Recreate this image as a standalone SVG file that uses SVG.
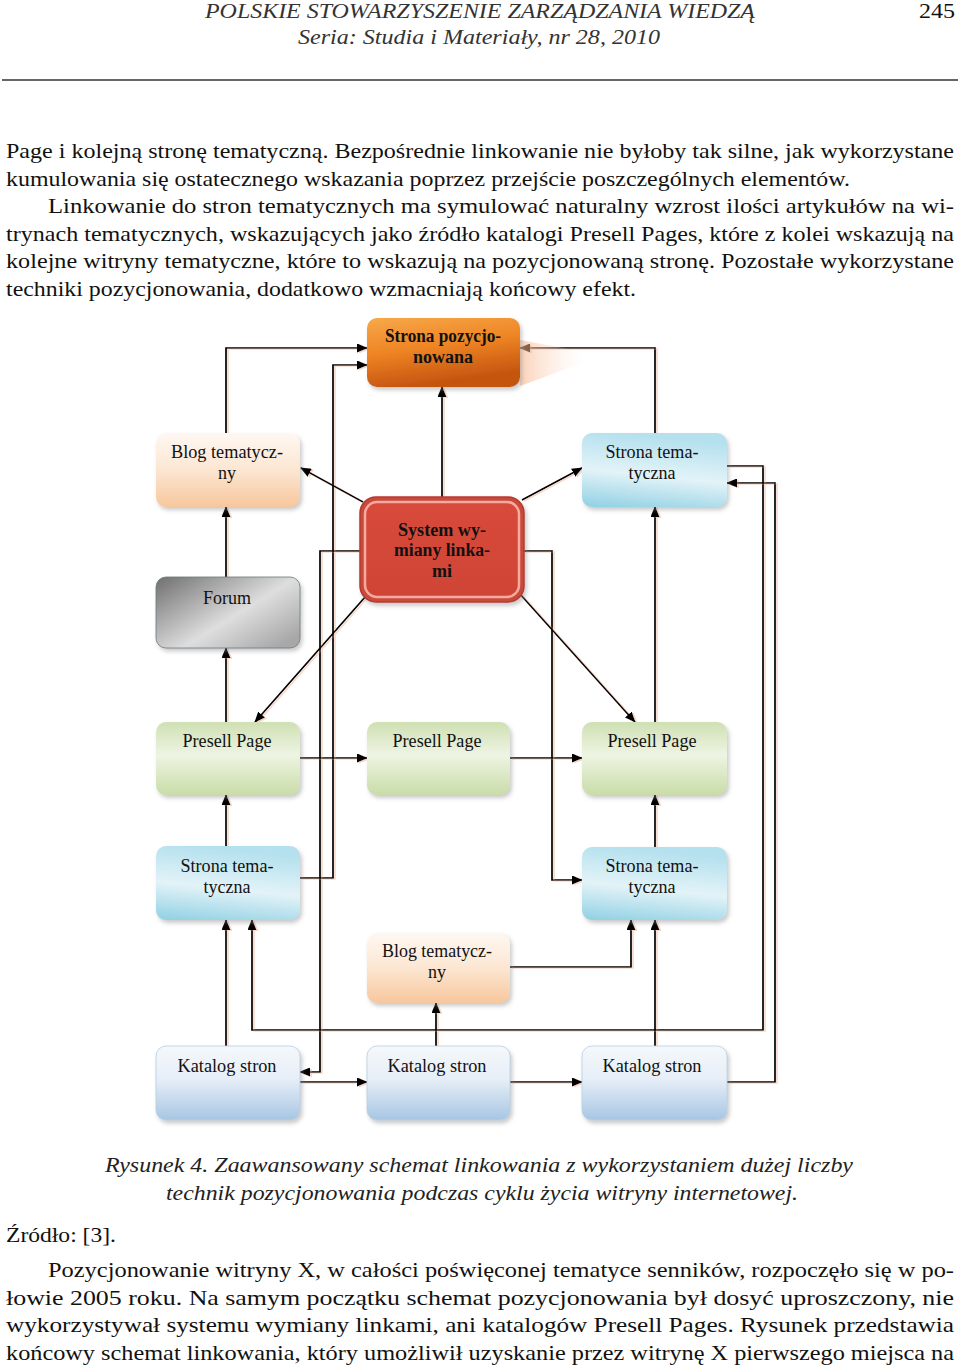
<svg xmlns="http://www.w3.org/2000/svg" width="960" height="1368" viewBox="0 0 960 1368">
<defs>
<style>
.hdr{font-family:"Liberation Serif","Times New Roman",serif;font-style:italic;font-size:22px;fill:#333}
.body{font-family:"Liberation Serif","Times New Roman",serif;font-size:22px;fill:#111}
.cap{font-family:"Liberation Serif","Times New Roman",serif;font-style:italic;font-size:21px;fill:#222}
.lbl{font-family:"Liberation Serif","Times New Roman",serif;font-size:18px;fill:#111;text-anchor:middle}
.lblb{font-family:"Liberation Serif","Times New Roman",serif;font-size:18px;font-weight:bold;fill:#111;text-anchor:middle}
.box{filter:url(#shadow)}
.wire{fill:none;stroke:#000;stroke-width:1.7}
.arr{marker-end:url(#ah)}
</style>
<marker id="ah" markerWidth="11" markerHeight="9" refX="10" refY="4.5" orient="auto" markerUnits="userSpaceOnUse">
<path d="M0,0 L11,4.5 L0,9 Z" fill="#000"/>
</marker>
<filter id="shadow" x="-10%" y="-10%" width="125%" height="135%">
<feDropShadow dx="2" dy="3" stdDeviation="2" flood-color="#888" flood-opacity="0.45"/>
</filter>
<filter id="halo" x="-5%" y="-5%" width="110%" height="110%">
<feOffset in="SourceAlpha" dx="1.5" dy="1" result="o"/>
<feFlood flood-color="#f0b9a2" flood-opacity="0.55"/>
<feComposite in2="o" operator="in" result="h"/>
<feMerge><feMergeNode in="h"/><feMergeNode in="SourceGraphic"/></feMerge>
</filter>
<linearGradient id="gOrange" x1="0" y1="0" x2="0.3" y2="1">
<stop offset="0" stop-color="#f7a94a"/><stop offset="0.5" stop-color="#ee8424"/><stop offset="1" stop-color="#c4540f"/>
</linearGradient>
<linearGradient id="gPeach" x1="0" y1="0" x2="0" y2="1">
<stop offset="0" stop-color="#fef8f2"/><stop offset="0.5" stop-color="#fce6d2"/><stop offset="1" stop-color="#f7c79d"/>
</linearGradient>
<linearGradient id="gBlue" x1="0.2" y1="0" x2="0" y2="1">
<stop offset="0" stop-color="#b5e1ee"/><stop offset="0.5" stop-color="#e3f3f8"/><stop offset="1" stop-color="#8fd0e3"/>
</linearGradient>
<linearGradient id="gGreen" x1="0" y1="0" x2="0" y2="1">
<stop offset="0" stop-color="#cfe0b3"/><stop offset="0.45" stop-color="#eef4e3"/><stop offset="1" stop-color="#c9dca8"/>
</linearGradient>
<linearGradient id="gGray" x1="0" y1="0" x2="1" y2="0.8">
<stop offset="0" stop-color="#6f6f6f"/><stop offset="0.6" stop-color="#dedede"/><stop offset="1" stop-color="#a8a8a8"/>
</linearGradient>
<linearGradient id="gKat" x1="0" y1="0" x2="0" y2="1">
<stop offset="0" stop-color="#f5f8fb"/><stop offset="0.45" stop-color="#e6eef7"/><stop offset="1" stop-color="#a7c6e3"/>
</linearGradient>
<linearGradient id="gRed" x1="0" y1="0" x2="0" y2="1">
<stop offset="0" stop-color="#d84a3b"/><stop offset="1" stop-color="#cf4535"/>
</linearGradient>
<linearGradient id="gGlow" x1="0" y1="0" x2="1" y2="0">
<stop offset="0" stop-color="#f7b48a" stop-opacity="0.6"/><stop offset="1" stop-color="#fde3d2" stop-opacity="0"/>
</linearGradient>
</defs>
<rect width="960" height="1368" fill="#fff"/>

<g id="page-text">
<text class="hdr" x="480" y="18" text-anchor="middle" textLength="550" lengthAdjust="spacingAndGlyphs">POLSKIE STOWARZYSZENIE ZARZĄDZANIA WIEDZĄ</text>
<text class="hdr" x="479" y="44" text-anchor="middle" textLength="362" lengthAdjust="spacingAndGlyphs">Seria: Studia i Materiały, nr 28, 2010</text>
<text class="body" x="919" y="18" textLength="36" lengthAdjust="spacingAndGlyphs" fill="#333">245</text>
<line x1="2" y1="80" x2="958" y2="80" stroke="#333" stroke-width="1.3"/>
<text class="body" x="6" y="158" textLength="948" lengthAdjust="spacingAndGlyphs">Page i kolejną stronę tematyczną. Bezpośrednie linkowanie nie byłoby tak silne, jak wykorzystane</text>
<text class="body" x="6" y="186" textLength="844" lengthAdjust="spacingAndGlyphs">kumulowania się ostatecznego wskazania poprzez przejście poszczególnych elementów.</text>
<text class="body" x="48" y="213" textLength="906" lengthAdjust="spacingAndGlyphs">Linkowanie do stron tematycznych ma symulować naturalny wzrost ilości artykułów na wi-</text>
<text class="body" x="6" y="241" textLength="948" lengthAdjust="spacingAndGlyphs">trynach tematycznych, wskazujących jako źródło katalogi Presell Pages, które z kolei wskazują na</text>
<text class="body" x="6" y="268" textLength="948" lengthAdjust="spacingAndGlyphs">kolejne witryny tematyczne, które to wskazują na pozycjonowaną stronę. Pozostałe wykorzystane</text>
<text class="body" x="6" y="296" textLength="630" lengthAdjust="spacingAndGlyphs">techniki pozycjonowania, dodatkowo wzmacniają końcowy efekt.</text>
<text class="cap" x="105" y="1172" textLength="748" lengthAdjust="spacingAndGlyphs">Rysunek 4. Zaawansowany schemat linkowania z wykorzystaniem dużej liczby</text>
<text class="cap" x="166" y="1200" textLength="632" lengthAdjust="spacingAndGlyphs">technik pozycjonowania podczas cyklu życia witryny internetowej.</text>
<text class="body" x="6" y="1242" textLength="110" lengthAdjust="spacingAndGlyphs">Źródło: [3].</text>
<text class="body" x="48" y="1277" textLength="906" lengthAdjust="spacingAndGlyphs">Pozycjonowanie witryny X, w całości poświęconej tematyce senników, rozpoczęło się w po-</text>
<text class="body" x="6" y="1305" textLength="948" lengthAdjust="spacingAndGlyphs">łowie 2005 roku. Na samym początku schemat pozycjonowania był dosyć uproszczony, nie</text>
<text class="body" x="6" y="1332" textLength="948" lengthAdjust="spacingAndGlyphs">wykorzystywał systemu wymiany linkami, ani katalogów Presell Pages. Rysunek  przedstawia</text>
<text class="body" x="6" y="1360" textLength="948" lengthAdjust="spacingAndGlyphs">końcowy schemat linkowania, który umożliwił uzyskanie przez witrynę X pierwszego miejsca na</text>
</g>

<g id="connectors" filter="url(#halo)">
<path class="wire arr" d="M226,433 V348 H367"/>
<path class="wire arr" d="M300,878 H333 V365 H367"/>
<path class="wire arr" d="M362,551 H320 V1072 H300"/>
<path class="wire arr" d="M524,551 H552 V880 H582"/>
<path class="wire arr" d="M442,497 V387"/>
<path class="wire arr" d="M363,502 L301,468"/>
<path class="wire arr" d="M522,500 L582,468"/>
<path class="wire arr" d="M366,596 L255,722"/>
<path class="wire arr" d="M520,594 L635,722"/>
<path class="wire arr" d="M655,433 V348 H520"/>
<path class="wire arr" d="M226,577 V507"/>
<path class="wire arr" d="M226,722 V648"/>
<path class="wire arr" d="M226,846 V795"/>
<path class="wire arr" d="M300,758 H367"/>
<path class="wire arr" d="M510,758 H582"/>
<path class="wire arr" d="M655,847 V795"/>
<path class="wire arr" d="M655,722 V507"/>
<path class="wire arr" d="M226,1046 V920"/>
<path class="wire arr" d="M727,466 H763 V1030 H252 V920"/>
<path class="wire arr" d="M510,967 H631 V920"/>
<path class="wire arr" d="M436,1046 V1003"/>
<path class="wire arr" d="M300,1082 H367"/>
<path class="wire arr" d="M510,1082 H582"/>
<path class="wire arr" d="M655,1046 V920"/>
<path class="wire arr" d="M727,1082 H775 V483 H727"/>
</g>

<g id="strona-pozycjonowana">
<polygon points="520,340 585,352 585,362 520,386" fill="url(#gGlow)"/>
<rect class="box" x="367" y="318" width="153" height="69" rx="10" fill="url(#gOrange)"/>
<text class="lblb" x="443" y="342" textLength="116" lengthAdjust="spacingAndGlyphs">Strona pozycjo-</text>
<text class="lblb" x="443" y="363">nowana</text>
</g>

<g id="blog-top">
<rect class="box" x="156" y="433" width="144" height="74" rx="10" fill="url(#gPeach)"/>
<text class="lbl" x="227" y="458" textLength="112" lengthAdjust="spacingAndGlyphs">Blog tematycz-</text>
<text class="lbl" x="227" y="479">ny</text>
</g>

<g id="strona-tematyczna-top">
<rect class="box" x="582" y="433" width="145" height="74" rx="10" fill="url(#gBlue)"/>
<text class="lbl" x="652" y="458" textLength="93" lengthAdjust="spacingAndGlyphs">Strona tema-</text>
<text class="lbl" x="652" y="479">tyczna</text>
</g>

<g id="system-wymiany">
<rect class="box" x="360" y="497" width="164" height="105" rx="16" fill="#c9483a" stroke="#b53a2f" stroke-width="1.5"/>
<rect x="365" y="502" width="154" height="95" rx="12" fill="url(#gRed)" stroke="#f3aa9f" stroke-width="2.5"/>
<text class="lblb" x="442" y="536" textLength="88" lengthAdjust="spacingAndGlyphs">System wy-</text>
<text class="lblb" x="442" y="556" textLength="96" lengthAdjust="spacingAndGlyphs">miany linka-</text>
<text class="lblb" x="442" y="577">mi</text>
</g>

<g id="forum">
<rect class="box" x="156" y="577" width="144" height="71" rx="10" fill="url(#gGray)" stroke="#6a7a80" stroke-width="0.8"/>
<text class="lbl" x="227" y="604">Forum</text>
</g>

<g id="presell-left">
<rect class="box" x="156" y="722" width="144" height="73" rx="10" fill="url(#gGreen)"/>
<text class="lbl" x="227" y="747" textLength="89" lengthAdjust="spacingAndGlyphs">Presell Page</text>
</g>
<g id="presell-middle">
<rect class="box" x="367" y="722" width="143" height="73" rx="10" fill="url(#gGreen)"/>
<text class="lbl" x="437" y="747" textLength="89" lengthAdjust="spacingAndGlyphs">Presell Page</text>
</g>
<g id="presell-right">
<rect class="box" x="582" y="722" width="145" height="73" rx="10" fill="url(#gGreen)"/>
<text class="lbl" x="652" y="747" textLength="89" lengthAdjust="spacingAndGlyphs">Presell Page</text>
</g>

<g id="strona-tematyczna-left">
<rect class="box" x="156" y="846" width="144" height="74" rx="10" fill="url(#gBlue)"/>
<text class="lbl" x="227" y="872" textLength="93" lengthAdjust="spacingAndGlyphs">Strona tema-</text>
<text class="lbl" x="227" y="893">tyczna</text>
</g>
<g id="strona-tematyczna-right">
<rect class="box" x="582" y="847" width="145" height="73" rx="10" fill="url(#gBlue)"/>
<text class="lbl" x="652" y="872" textLength="93" lengthAdjust="spacingAndGlyphs">Strona tema-</text>
<text class="lbl" x="652" y="893">tyczna</text>
</g>

<g id="blog-bottom">
<rect class="box" x="367" y="933" width="143" height="70" rx="10" fill="url(#gPeach)"/>
<text class="lbl" x="437" y="957" textLength="110" lengthAdjust="spacingAndGlyphs">Blog tematycz-</text>
<text class="lbl" x="437" y="978">ny</text>
</g>

<g id="katalog-left">
<rect class="box" x="156" y="1046" width="144" height="74" rx="10" fill="url(#gKat)" stroke="#b8cfe6" stroke-width="0.8"/>
<text class="lbl" x="227" y="1072" textLength="99" lengthAdjust="spacingAndGlyphs">Katalog stron</text>
</g>
<g id="katalog-middle">
<rect class="box" x="367" y="1046" width="143" height="74" rx="10" fill="url(#gKat)" stroke="#b8cfe6" stroke-width="0.8"/>
<text class="lbl" x="437" y="1072" textLength="99" lengthAdjust="spacingAndGlyphs">Katalog stron</text>
</g>
<g id="katalog-right">
<rect class="box" x="582" y="1046" width="145" height="74" rx="10" fill="url(#gKat)" stroke="#b8cfe6" stroke-width="0.8"/>
<text class="lbl" x="652" y="1072" textLength="99" lengthAdjust="spacingAndGlyphs">Katalog stron</text>
</g>
</svg>
